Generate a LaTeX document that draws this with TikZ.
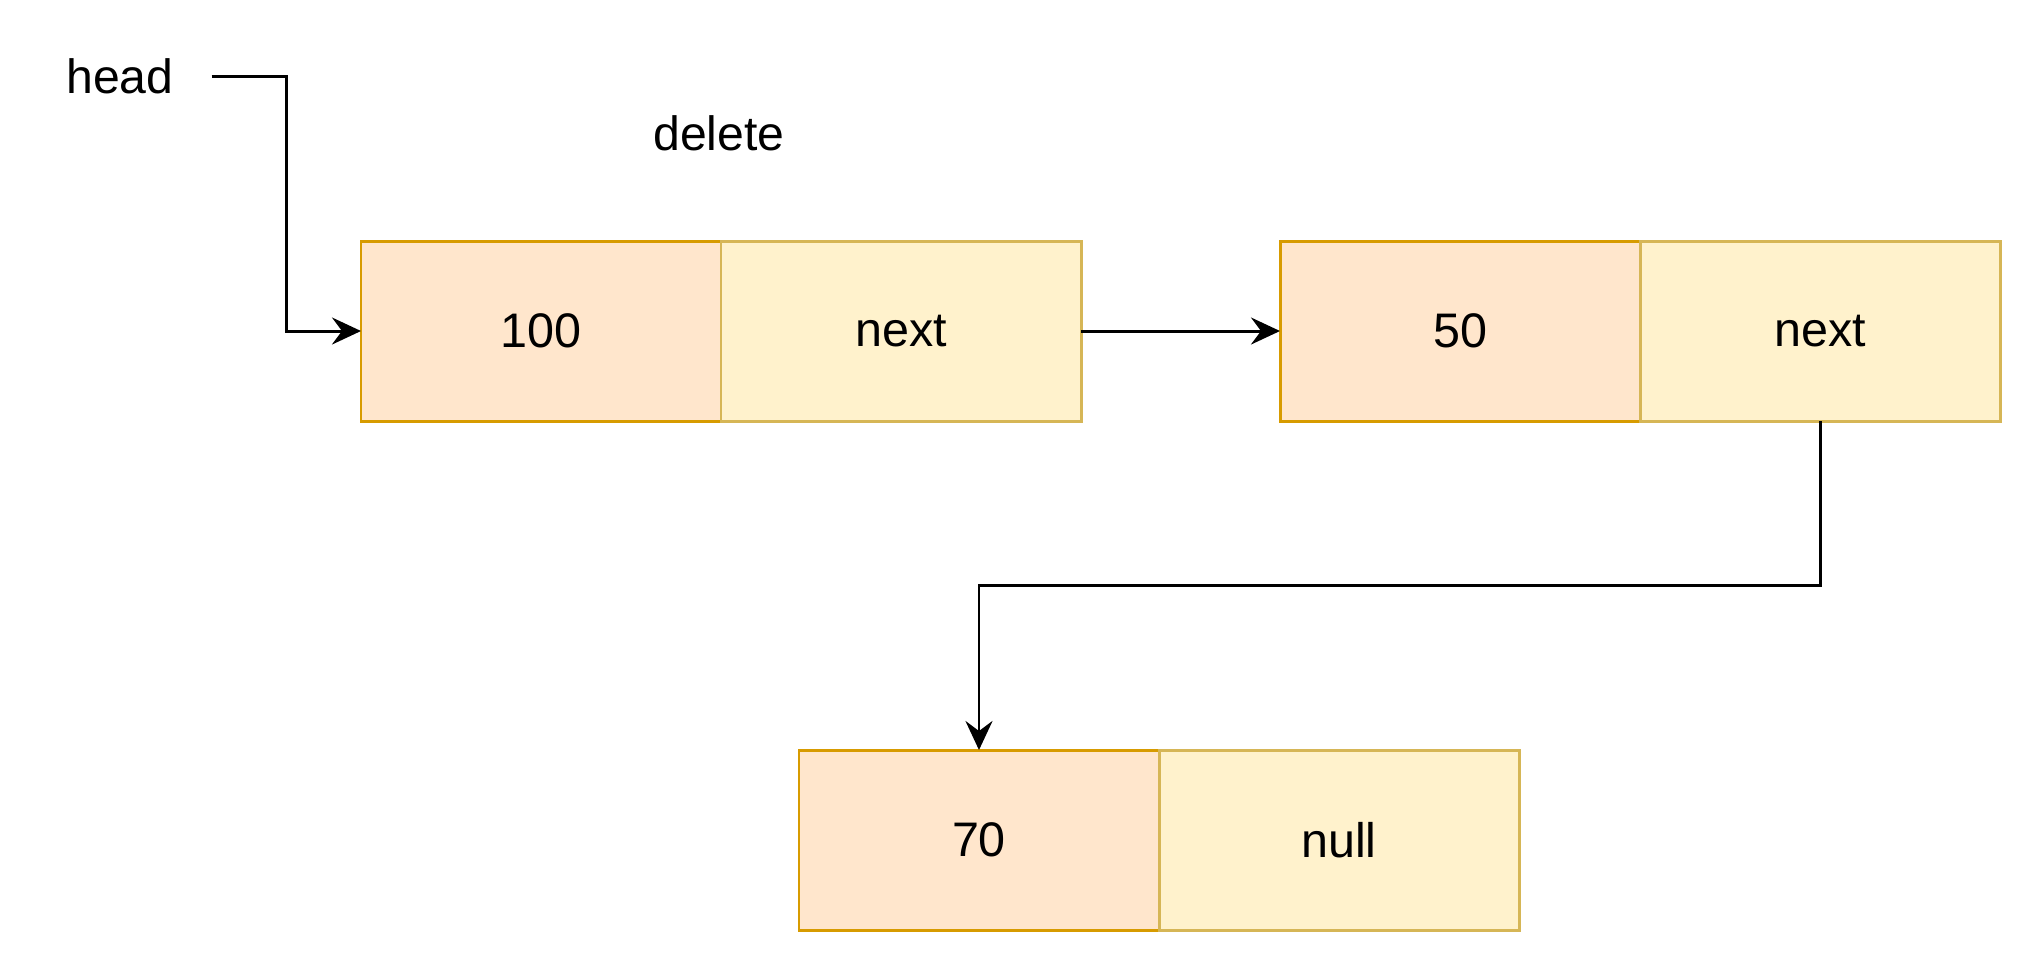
\documentclass[tikz,border=0pt]{standalone}
\usepackage{fontspec}
\setmainfont{Liberation Sans}
\usetikzlibrary{arrows.meta, positioning}

\definecolor{valfill}{HTML}{FFE6CC}
\definecolor{valline}{HTML}{D79B00}
\definecolor{nxtfill}{HTML}{FFF2CC}
\definecolor{nxtline}{HTML}{D6B656}

\begin{document}
\begin{tikzpicture}[
    cell/.style={draw, rectangle, line width=0.85pt, minimum width=3.6cm, minimum height=1.8cm, inner sep=0pt, outer sep=0pt, font=\fontsize{13.8}{16}\selectfont},
    valcell/.style={cell, fill=valfill, draw=valline},
    nxtcell/.style={cell, fill=nxtfill, draw=nxtline},
    lbl/.style={inner sep=0pt, font=\fontsize{13.7}{16}\selectfont},
    arr/.style={-{Stealth[length=2.9mm, width=2.7mm, inset=1mm]}, line width=0.85pt},
    >=Stealth
]
\useasboundingbox (0,0) rectangle (20.31,-9.63);

% labels
\node[lbl, minimum width=1.82cm] (head) at (1.2,-0.76) {head};
\node[lbl] (delete) at (7.19,-1.33) {delete};

% first node
\node[valcell] (val1) at (5.41,-3.31) {100};
\node[nxtcell, right=0pt of val1] (nxt1) {next};

% second node
\node[valcell] (val2) at (14.6,-3.31) {50};
\node[nxtcell, right=0pt of val2] (nxt2) {next};

% third node
\node[valcell] (val3) at (9.79,-8.4) {70};
\node[nxtcell, right=0pt of val3] (nul3) {null};

% Connections
\draw[arr] (head.east) -- ++(0.75,0) |- (val1.west);
\draw[arr] (nxt1.east) -- (val2.west);
\draw[arr] (nxt2.south) -- ++(0,-1.645) -| (val3.north);

\end{tikzpicture}
\end{document}
